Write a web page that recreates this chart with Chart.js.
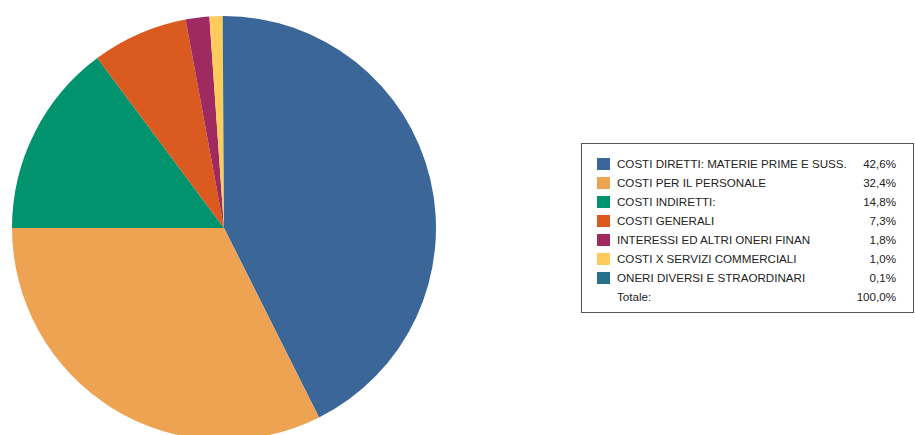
<!DOCTYPE html>
<html>
<head>
<meta charset="utf-8">
<script src="https://cdn.jsdelivr.net/npm/chart.js@4"></script>
<style>
    html, body { margin: 0; padding: 0; background: #fff; overflow: hidden; }
    body { width: 915px; height: 435px; position: relative; font-family: "Liberation Sans", Arial, sans-serif; }
    #pie-wrap { position: absolute; left: 12px; top: 16px; width: 424px; height: 424px; }
    #legend { position: absolute; left: 581px; top: 143px; width: 333px; height: 170px; border: 1px solid #555; box-sizing: border-box; }
    #legend table { position: absolute; left: 15px; top: 10px; border-collapse: collapse; font-size: 11.6px; color: #222; }
    #legend td { height: 19px; padding: 0; white-space: nowrap; }
    .sw { width: 13px; height: 12px; display: inline-block; vertical-align: middle; }
    td.swc { width: 20px; }
    td.lbl { width: 236px; }
    td.val { text-align: right; width: 43px; }
</style>
</head>
<body>
<div id="pie-wrap"><canvas id="pie-chart"></canvas></div>
<div id="legend"><table id="legend-table"></table></div>
<script>
const categories = [
    'COSTI DIRETTI: MATERIE PRIME E SUSS.',
    'COSTI PER IL PERSONALE',
    'COSTI INDIRETTI:',
    'COSTI GENERALI',
    'INTERESSI ED ALTRI ONERI FINAN',
    'COSTI X SERVIZI COMMERCIALI',
    'ONERI DIVERSI E STRAORDINARI'
];
const shares = [42.6, 32.4, 14.8, 7.3, 1.8, 1.0, 0.1];
const colors = ['#3b6698', '#eea353', '#00936e', '#db5a20', '#9e2a60', '#ffcb5c', '#28718a'];
const totalLabel = 'Totale:';

const fmt = v => v.toFixed(1).replace('.', ',') + '%';

const table = document.getElementById('legend-table');
categories.forEach((cat, i) => {
    table.innerHTML += `<tr><td class="swc"><span class="sw" style="background:${colors[i]}"></span></td><td class="lbl">${cat}</td><td class="val">${fmt(shares[i])}</td></tr>`;
});
const total = shares.reduce((a, b) => a + b, 0);
table.innerHTML += `<tr><td class="swc"></td><td class="lbl">${totalLabel}</td><td class="val">${fmt(total)}</td></tr>`;

const ctx = document.getElementById('pie-chart').getContext('2d');
new Chart(ctx, {
    type: 'pie',
    data: {
        labels: categories,
        datasets: [{
            data: shares,
            backgroundColor: colors,
            borderWidth: 0
        }]
    },
    options: {
        responsive: true,
        maintainAspectRatio: false,
        animation: false,
        layout: { padding: 0 },
        plugins: {
            legend: { display: false },
            tooltip: { enabled: false }
        }
    }
});
</script>
</body>
</html>
